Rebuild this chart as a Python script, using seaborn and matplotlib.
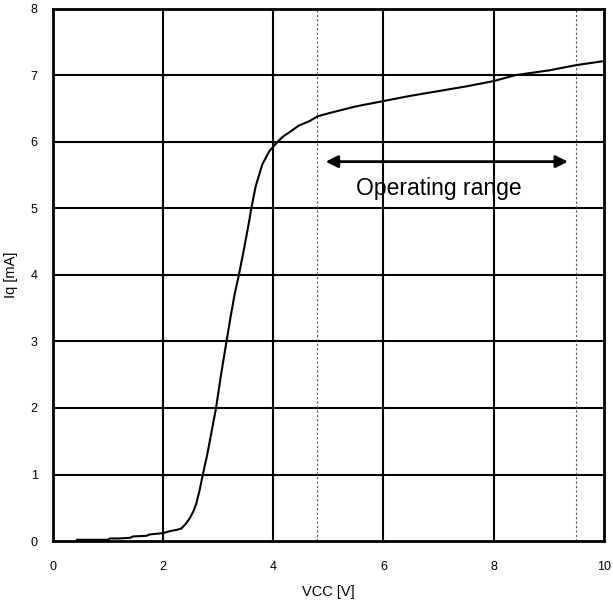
import matplotlib
matplotlib.use("Agg")
import matplotlib.pyplot as plt
import seaborn as sns
import pandas as pd

vcc = [0.43, 0.6, 0.8, 1.0, 1.03, 1.2, 1.4, 1.45, 1.7, 1.75, 2.0, 2.12, 2.25, 2.33, 2.4, 2.48,
       2.55, 2.6, 2.66, 2.72, 2.8, 2.88, 2.96, 3.05, 3.15, 3.22, 3.30, 3.375, 3.47, 3.56, 3.6,
       3.68, 3.8, 3.93, 4.08, 4.18, 4.29, 4.46, 4.66, 4.8, 5.02, 5.5, 6.0, 6.5, 7.0,
       7.5, 8.0, 8.4, 9.0, 9.5, 10.0]
iq = [0.02, 0.02, 0.02, 0.02, 0.04, 0.04, 0.05, 0.07, 0.08, 0.10, 0.12, 0.15, 0.17, 0.19, 0.25, 0.34,
      0.45, 0.56, 0.76, 1.0, 1.3, 1.65, 2.0, 2.5, 3.0, 3.35, 3.72, 4.0, 4.4, 4.8, 5.0,
      5.33, 5.66, 5.86, 6.0, 6.08, 6.14, 6.24, 6.31, 6.38, 6.43, 6.53, 6.61, 6.69, 6.76,
      6.83, 6.91, 7.0, 7.07, 7.15, 7.21]

x_ticks = [0, 2, 4, 6, 8, 10]
y_ticks = [0, 1, 2, 3, 4, 5, 6, 7, 8]
range_lines = [4.8, 9.5]
arrow_from, arrow_to, arrow_y = 4.95, 9.35, 5.7
annot_text = "Operating range"
annot_pos = (7.0, 5.3)

sns.set_theme(style="white")
plt.rcParams["font.family"] = ["Liberation Sans", "DejaVu Sans"]

fig = plt.figure(figsize=(6.13, 6.08), dpi=100)
ax = fig.add_axes([0.0865, 0.11, 0.8985, 0.876])

df = pd.DataFrame({"VCC": vcc, "Iq": iq})
for xv in x_ticks[1:-1]:
    ax.axvline(xv, color="black", lw=1.5, zorder=1)
for yv in y_ticks[1:-1]:
    ax.axhline(yv, color="black", lw=1.5, zorder=1)
for xv in range_lines:
    ax.axvline(xv, color="#555555", lw=0.8, ls=(0, (2, 2)), zorder=1)

sns.lineplot(data=df, x="VCC", y="Iq", estimator=None, sort=False, color="black", lw=1.5, ax=ax, zorder=3)

ax.annotate("", xy=(arrow_to, arrow_y), xytext=(arrow_from, arrow_y),
            arrowprops=dict(arrowstyle="<|-|>", color="black", lw=2, mutation_scale=18,
                            shrinkA=0, shrinkB=0), zorder=4)
ax.text(annot_pos[0], annot_pos[1], annot_text, fontsize=16.5, ha="center", va="center", color="black", zorder=4)

ax.set_xlim(0, 10)
ax.set_ylim(0, 8)
ax.set_xticks(x_ticks)
ax.set_yticks(y_ticks)
ax.tick_params(axis="x", length=0, labelsize=9, colors="black", pad=14)
ax.tick_params(axis="y", length=0, labelsize=9, colors="black", pad=11)
ax.set_xlabel("VCC [V]", fontsize=10.5, color="black", labelpad=9)
ax.set_ylabel("Iq [mA]", fontsize=10.5, color="black", labelpad=9)
for s in ax.spines.values():
    s.set_color("black")
    s.set_linewidth(2)

fig.savefig("out.png", dpi=100)
